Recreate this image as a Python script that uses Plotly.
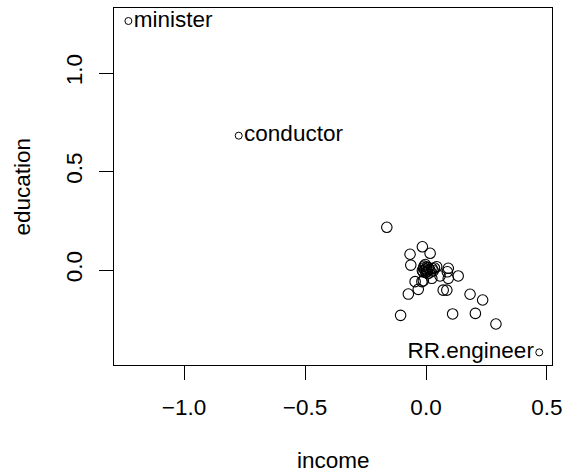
import plotly.graph_objects as go

# unlabeled observations (income, education)
income = [-0.162, -0.015, -0.066, 0.017, -0.063, 0.044, 0.092, 0.088, 0.133, 0.092,
          0.058, 0.024, -0.011, -0.045, -0.032, -0.073, 0.071, 0.086, 0.182, 0.234,
          -0.105, 0.110, 0.204, 0.289, -0.017,
          -0.010, -0.005, 0.000, 0.005, 0.010, -0.015, 0.015, 0.020, 0.000, -0.008,
          0.025, 0.003, -0.012, 0.030, 0.008, 0.035, -0.003]
education = [0.217, 0.118, 0.080, 0.085, 0.025, 0.017, 0.009, -0.009, -0.030, -0.042,
             -0.030, -0.042, -0.054, -0.059, -0.098, -0.122, -0.102, -0.102, -0.123, -0.152,
             -0.230, -0.223, -0.220, -0.274, -0.059,
             0.010, 0.000, 0.005, -0.005, 0.012, -0.002, 0.002, -0.010, -0.012, 0.020,
             0.008, 0.015, -0.010, -0.004, -0.018, 0.010, 0.028]

# labeled observations
lab_names = ["minister", "conductor", "RR.engineer"]
lab_income = [-1.230, -0.774, 0.468]
lab_education = [1.264, 0.682, -0.418]
lab_pos = ["middle right", "middle right", "middle left"]

xticks = [-1.0, -0.5, 0.0, 0.5]
xticktext = ["\u22121.0", "\u22120.5", "0.0", "0.5"]
yticks = [0.0, 0.5, 1.0]
yticktext = ["0.0", "0.5", "1.0"]

FONT = "Liberation Sans, Arial, Helvetica, sans-serif"
FS = 22.5

fig = go.Figure()
fig.add_trace(go.Scatter(
    x=income, y=education, mode="markers",
    marker=dict(symbol="circle-open", size=10.5, color="black", line=dict(width=1.1, color="black")),
    showlegend=False, hoverinfo="skip"))
fig.add_trace(go.Scatter(
    x=lab_income, y=lab_education, mode="markers+text",
    text=lab_names, textposition=lab_pos,
    textfont=dict(family=FONT, size=FS, color="black"),
    marker=dict(symbol="circle-open", size=7, color="black", line=dict(width=1, color="black")),
    showlegend=False, hoverinfo="skip", cliponaxis=False))

axis_common = dict(showgrid=False, zeroline=False, showline=True, mirror=True,
                   linecolor="black", linewidth=1, ticks="outside", ticklen=14,
                   tickcolor="black", tickwidth=1, automargin=False,
                   ticklabeloverflow="allow",
                   tickfont=dict(family=FONT, size=FS, color="black"))

fig.update_layout(
    width=563, height=472, autosize=False,
    margin=dict(l=114, r=11, t=8, b=107),
    paper_bgcolor="white", plot_bgcolor="white",
    xaxis=dict(range=[-1.2895, 0.5207], tickvals=xticks, ticktext=xticktext,
               ticklabelstandoff=8, **axis_common),
    yaxis=dict(range=[-0.482, 1.330], tickvals=yticks, ticktext=yticktext,
               tickangle=-90, ticklabelstandoff=8, **axis_common),
    annotations=[
        dict(text="income", x=0.5, y=0, xref="paper", yref="paper",
             xanchor="center", yanchor="middle", yshift=-95, showarrow=False,
             font=dict(family=FONT, size=FS, color="black")),
        dict(text="education", x=0, y=0.5, xref="paper", yref="paper",
             xanchor="center", yanchor="middle", xshift=-92, textangle=-90, showarrow=False,
             font=dict(family=FONT, size=FS, color="black")),
    ],
)

fig.write_html("out.html")
